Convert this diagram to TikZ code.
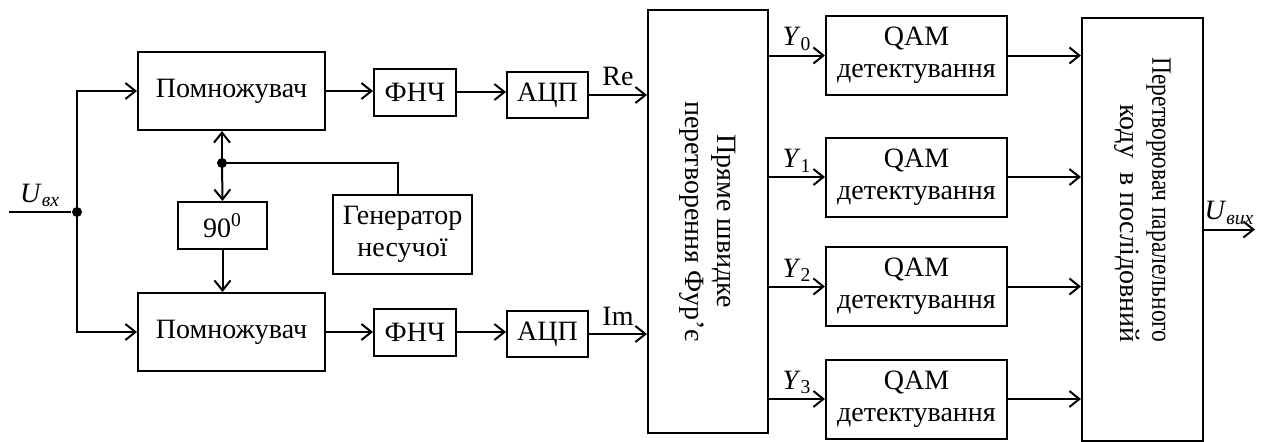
\documentclass[tikz,border=0pt]{standalone}
\usepackage{fontspec}
\setmainfont{Liberation Serif}
\usetikzlibrary{arrows.meta}

\begin{document}
\begin{tikzpicture}[x=0.5pt, y=-0.5pt, line width=1pt,
    block/.style={draw, line width=1pt, align=center, inner sep=1pt, font=\fontsize{14}{16}\selectfont},
    txt/.style={font=\fontsize{14}{16}\selectfont, inner sep=1pt},
    arr/.style={-{Straight Barb[length=5pt,width=8pt]}},
    dot/.style={circle, fill, inner sep=0pt, minimum size=5pt}]
    \useasboundingbox (0,0) rectangle (1262,441);

    %multipliers, filters, ADC
    \node[block, minimum width=93.5pt, minimum height=39pt] (mul1) at (231.5,91) {Помножувач};
    \node[block, minimum width=93.5pt, minimum height=39pt] (mul2) at (231.5,332) {Помножувач};
    \node[block, minimum width=41pt, minimum height=23.5pt] (lpf1) at (415,92) {ФНЧ};
    \node[block, minimum width=41pt, minimum height=23.5pt] (lpf2) at (415,332) {ФНЧ};
    \node[block, minimum width=40.5pt, minimum height=23pt] (adc1) at (547.5,95) {АЦП};
    \node[block, minimum width=40.5pt, minimum height=23pt] (adc2) at (547.5,334) {АЦП};

    %phase shift and generator
    \node[block, minimum width=44.5pt, minimum height=23.5pt] (shift) at (222.5,225.5) {90\textsuperscript{0}};
    \node[block, minimum width=69.5pt, minimum height=39.5pt] (gen) at (402.5,234.5) {Генератор\\несучої};

    %FFT
    \node[block, minimum width=60pt, minimum height=211.5pt] (fft) at (708,221.5) {};
    \node[txt, rotate=-90, align=center] (ffttext) at (fft.center) {Пряме швидке\\перетворення Фур’є};

    %QAM detectors
    \node[block, minimum width=90.5pt, minimum height=39.5pt] (qam0) at (916.5,55.5) {QAM\\детектування};
    \node[block, minimum width=90.5pt, minimum height=39.5pt] (qam1) at (916.5,177) {QAM\\детектування};
    \node[block, minimum width=90.5pt, minimum height=39.5pt] (qam2) at (916.5,286.5) {QAM\\детектування};
    \node[block, minimum width=90.5pt, minimum height=39.5pt] (qam3) at (916.5,399) {QAM\\детектування};

    %parallel to serial
    \node[block, minimum width=60.5pt, minimum height=211.5pt] (ps) at (1142.5,229.5) {};
    \node[txt, rotate=-90, align=right] (pstext) at (1142.5,200) {\scalebox{0.84}[1]{Перетворювач паралельного}\\коду\ \ в послідовний};

    %input
    \coordinate (uin) at (9,212);
    \node[dot] (jin) at (77,212) {};
    \draw (uin) -- (jin) node[txt, midway, above=1pt] {\textit{U}\textsubscript{\textit{вх}}};
    \draw[arr] (jin.center) |- (mul1.west);
    \draw[arr] (jin.center) |- (mul2.west);

    %carrier
    \node[dot] (jgen) at (222,163) {};
    \draw[arr] (jgen.center) -- (jgen |- mul1.south);
    \draw[arr] (jgen.center) -- (shift.north);
    \draw[arr] (shift.south) -- (shift.south |- mul2.north);
    \draw (gen.north -| 398,0) |- (jgen.center);

    %signal path
    \draw[arr] (mul1.east) -- (lpf1.west |- mul1.east);
    \draw[arr] (mul2.east) -- (lpf2.west);
    \draw[arr] (lpf1.east) -- (adc1.west |- lpf1.east);
    \draw[arr] (lpf2.east) -- (adc2.west |- lpf2.east);
    \draw[arr] (adc1.east) -- (adc1.east -| fft.west) node[txt, midway, above=3pt] {Re};
    \draw[arr] (adc2.east) -- (adc2.east -| fft.west) node[txt, midway, above=3pt] {Im};

    %outputs of FFT
    \foreach \i in {0,...,3} {
        \draw[arr] (qam\i.west -| fft.east) -- (qam\i.west) node[txt, midway, above=1pt] {\textit{Y}\textsubscript{\i}};
        \draw[arr] (qam\i.east) -- (qam\i.east -| ps.west);
    }

    %output
    \coordinate (uout) at (1255,229.5);
    \draw[arr] (ps.east) -- (uout) node[txt, midway, above=1pt] {\textit{U}\textsubscript{\textit{вих}}};
\end{tikzpicture}
\end{document}
